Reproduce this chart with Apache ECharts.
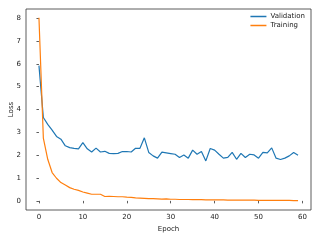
<!DOCTYPE html>
<html><head><meta charset="utf-8">
<script src="https://cdn.jsdelivr.net/npm/echarts@6/dist/echarts.min.js"></script>
<style>html,body{margin:0;padding:0;background:#fff}#c{width:320px;height:240px}</style>
</head><body><div id="c"></div>
<script>
const epochs = [0,1,2,3,4,5,6,7,8,9,10,11,12,13,14,15,16,17,18,19,20,21,22,23,24,25,26,27,28,29,30,31,32,33,34,35,36,37,38,39,40,41,42,43,44,45,46,47,48,49,50,51,52,53,54,55,56,57,58,59];
const validation = [5.92,3.65,3.35,3.10,2.82,2.70,2.41,2.33,2.30,2.28,2.55,2.28,2.14,2.31,2.14,2.17,2.08,2.07,2.08,2.16,2.16,2.14,2.30,2.30,2.76,2.12,1.97,1.87,2.13,2.10,2.07,2.04,1.90,2.01,1.87,2.22,2.04,2.16,1.75,2.29,2.22,2.04,1.87,1.90,2.12,1.82,2.08,1.90,2.04,2.01,1.87,2.12,2.10,2.32,1.87,1.81,1.87,1.97,2.12,2.00];
const training = [8.02,2.75,1.82,1.24,0.99,0.80,0.69,0.58,0.51,0.46,0.39,0.34,0.29,0.29,0.29,0.19,0.20,0.19,0.18,0.18,0.16,0.15,0.13,0.12,0.11,0.10,0.10,0.09,0.08,0.09,0.07,0.07,0.06,0.06,0.06,0.05,0.05,0.05,0.04,0.04,0.04,0.04,0.04,0.03,0.03,0.03,0.03,0.03,0.03,0.03,0.02,0.02,0.02,0.02,0.02,0.02,0.02,0.02,0.01,0.01];
const xTicks = [0,10,20,30,40,50,60];
const yTicks = [0,1,2,3,4,5,6,7,8];
const seriesNames = ['Validation','Training'];

const font = 'DejaVu Sans';
const chart = echarts.init(document.getElementById('c'), null, {renderer:'canvas'});
chart.setOption({
  animation:false,
  backgroundColor:'#fff',
  grid:{left:26,right:9,top:9,bottom:30,containLabel:false,outerBoundsMode:'none',show:true,borderColor:'#333',borderWidth:0.8,backgroundColor:'transparent'},
  legend:{
    orient:'vertical',right:15,top:13,padding:0,itemGap:2,itemWidth:16,itemHeight:1.5,
    icon:'rect',
    textStyle:{fontFamily:font,fontSize:7,color:'#222',padding:[0,0,0,-1]},
    data:seriesNames
  },
  xAxis:{
    type:'value',min:-2.95,max:61.95,
    name:'Epoch',nameLocation:'middle',nameGap:16,nameMoveOverlap:false,
    nameTextStyle:{fontFamily:font,fontSize:7,color:'#222'},
    axisLine:{show:false},
    axisTick:{show:true,length:2.5,customValues:xTicks,lineStyle:{color:'#333',width:0.8}},
    axisLabel:{customValues:xTicks,fontFamily:font,fontSize:7,color:'#222',margin:4},
    splitLine:{show:false}
  },
  yAxis:{
    type:'value',min:-0.4,max:8.4,
    name:'Loss',nameLocation:'middle',nameGap:11,nameMoveOverlap:false,
    nameTextStyle:{fontFamily:font,fontSize:7,color:'#222'},
    axisLine:{show:false},
    axisTick:{show:true,length:2.5,customValues:yTicks,lineStyle:{color:'#333',width:0.8}},
    axisLabel:{customValues:yTicks,fontFamily:font,fontSize:7,color:'#222',margin:5},
    splitLine:{show:false}
  },
  series:[
    {name:seriesNames[0],type:'line',showSymbol:false,symbol:'none',color:'#1f77b4',
     lineStyle:{width:1.2,color:'#1f77b4'},
     data:epochs.map((e,i)=>[e,validation[i]])},
    {name:seriesNames[1],type:'line',showSymbol:false,symbol:'none',color:'#ff7f0e',
     lineStyle:{width:1.2,color:'#ff7f0e'},
     data:epochs.map((e,i)=>[e,training[i]])}
  ]
});
</script></body></html>
